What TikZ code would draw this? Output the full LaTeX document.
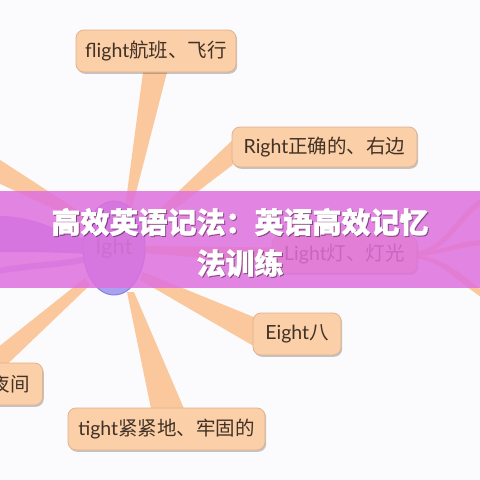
\documentclass[tikz,border=0pt]{standalone}
\usepackage{fontspec}
\setmainfont{Lato}
\newfontfamily\cjk{Noto Sans CJK SC}
\newfontfamily\cjkh{Noto Sans CJK SC}[BoldFeatures={FakeBold=1.2}]
\usetikzlibrary{calc,shapes.geometric,shadows}
\definecolor{bgc}{RGB}{251,250,253}
\definecolor{nodec}{RGB}{251,207,168}
\definecolor{bordc}{RGB}{226,178,140}
\definecolor{txtc}{RGB}{66,50,38}
\definecolor{branchc}{RGB}{250,200,156}
\definecolor{bandc}{RGB}{222,112,221}
\definecolor{ellc}{RGB}{168,162,240}
\definecolor{elldc}{RGB}{130,124,222}
\definecolor{lavc}{RGB}{170,150,238}
\pgfdeclarelayer{bg}
\pgfdeclarelayer{back}
\pgfdeclarelayer{front}
\pgfsetlayers{bg,back,main,front}
\tikzset{
  leaf/.style={draw=bordc, fill=nodec, rounded corners=8pt, line width=0.8pt,
    text=txtc, font=\fontsize{19.5}{22}\selectfont, inner sep=0pt,
    drop shadow={shadow xshift=1.2pt, shadow yshift=-1.8pt, opacity=0.22, fill=black}},
  branch/.style={fill=branchc},
}
\begin{document}
\begin{tikzpicture}[x=1pt,y=-1pt]
\useasboundingbox (0,0) rectangle (480,480);
\begin{pgfonlayer}{bg}
\fill[bgc] (0,0) rectangle (480,480);
\end{pgfonlayer}

% central node
\node[ellipse, draw=elldc, fill=ellc, line width=0.9pt, minimum width=62pt, minimum height=94pt,
  inner sep=0pt, text=black!60, font=\fontsize{22}{24}\selectfont] (root) at (114,248) {Ight};

% leaves
\node[leaf, minimum width=160pt, minimum height=42pt] (flight) at (156,51) {flight{\cjk 航班、飞行}};
\node[leaf, minimum width=185pt, minimum height=40pt] (right) at (324.5,147) {Right{\cjk 正确的、右边}};
\node[leaf, minimum width=145pt, minimum height=37pt] (light) at (344.5,254.5) {Light{\cjk 灯、灯光}};
\node[leaf, minimum width=88pt, minimum height=42pt] (eight) at (297,334) {Eight{\cjk 八}};
\node[leaf, minimum width=197pt, minimum height=42pt] (tight) at (166.5,429) {tight{\cjk 紧紧地、牢固的}};
\node[leaf, minimum height=42pt, text width=85pt, align=right, inner xsep=13pt, anchor=east] (night) at (43,384) {{\cjk 夜间}};

% free ends of branches leaving the picture
\coordinate (ulA) at (-6,156);
\coordinate (ulB) at (-6,181);
\coordinate (rsA) at (484,196);
\coordinate (rsB) at (484,240);
\coordinate (rsC) at (484,292);

\begin{pgfonlayer}{back}
% flight
\fill[branch] ($(root.center)+(11,-40)$) -- ($(flight.south)+(-13,0)$) -- ($(flight.south)+(11,0)$) -- ($(root.center)+(18,-40)$) -- cycle;
% right
\fill[branch] ($(root.center)+(26,-20)$) -- ($(right.west)+(1,-7)$) -- ($(right.west)+(1,18)$) -- ($(root.center)+(29,-15)$) -- cycle;
% light
\fill[branch] ($(root.center)+(28,-2)$) -- ($(light.west)+(1,-7)$) -- ($(light.west)+(1,9)$) -- ($(root.center)+(28,5)$) -- cycle;
% eight
\fill[branch] ($(root.center)+(29,24)$) -- ($(eight.west)+(1,-17)$) -- ($(eight.west)+(1,12)$) -- ($(root.center)+(26,32)$) -- cycle;
% tight
\fill[branch] ($(root.center)+(13,44)$) -- ($(tight.north)+(-15.5,1)$) -- ($(tight.north)+(17.5,1)$) -- ($(root.center)+(20,44)$) -- cycle;
% night
\fill[branch] ($(root.center)+(-29,30)$) -- ($(night.north east)+(-63,-1)$) -- ($(night.north east)+(-35,1)$) -- ($(root.center)+(-24,37)$) -- cycle;
% upper left
\fill[branch] ($(root.center)+(-26,-31)$) -- (ulA) -- (ulB) -- ($(root.center)+(-28,-24)$) -- cycle;
% lavender band to the left
\fill[lavc] ($(root.center)+(-28,-9)$) .. controls (60,234) and (40,216) .. (-2,216)
  -- (-2,252) .. controls (30,252) and (55,252) .. ($(root.center)+(-28,6)$) -- cycle;
\fill[lavc!70!white] ($(root.center)+(-28,8)$) .. controls (60,262) and (30,262) .. (-2,268)
  -- (-2,274) .. controls (35,268) and (60,268) .. ($(root.center)+(-27,14)$) -- cycle;
% sub-branches of light leaving to the right
\fill[branch] ($(light.east)+(-1,-3)$) .. controls (445,248) and (455,215) .. (rsA)
  -- ($(rsA)+(0,6)$) .. controls (458,222) and (448,252) .. ($(light.east)+(-1,1)$) -- cycle;
\fill[branch] ($(light.east)+(-1,-1)$) .. controls (445,250) and (460,240) .. (rsB)
  -- ($(rsB)+(0,5)$) .. controls (460,246) and (445,254) .. ($(light.east)+(-1,2)$) -- cycle;
\fill[branch] ($(light.east)+(-1,1)$) .. controls (445,258) and (458,272) .. (rsC)
  -- ($(rsC)+(0,7)$) .. controls (455,280) and (443,262) .. ($(light.east)+(-1,4)$) -- cycle;
\end{pgfonlayer}

\begin{pgfonlayer}{front}
\fill[bandc, opacity=0.85] (0,191) rectangle (480,288);
\node[font=\cjkh\bfseries\fontsize{29}{41}\selectfont, text=black, opacity=0.35, align=center] (titleshadow) at (241,243.5)
  {高效英语记法：英语高效记忆\\法训练};
\node[font=\cjkh\bfseries\fontsize{29}{41}\selectfont, text=white, align=center] (title) at (240,242.5)
  {高效英语记法：英语高效记忆\\法训练};
\end{pgfonlayer}
\end{tikzpicture}
\end{document}
